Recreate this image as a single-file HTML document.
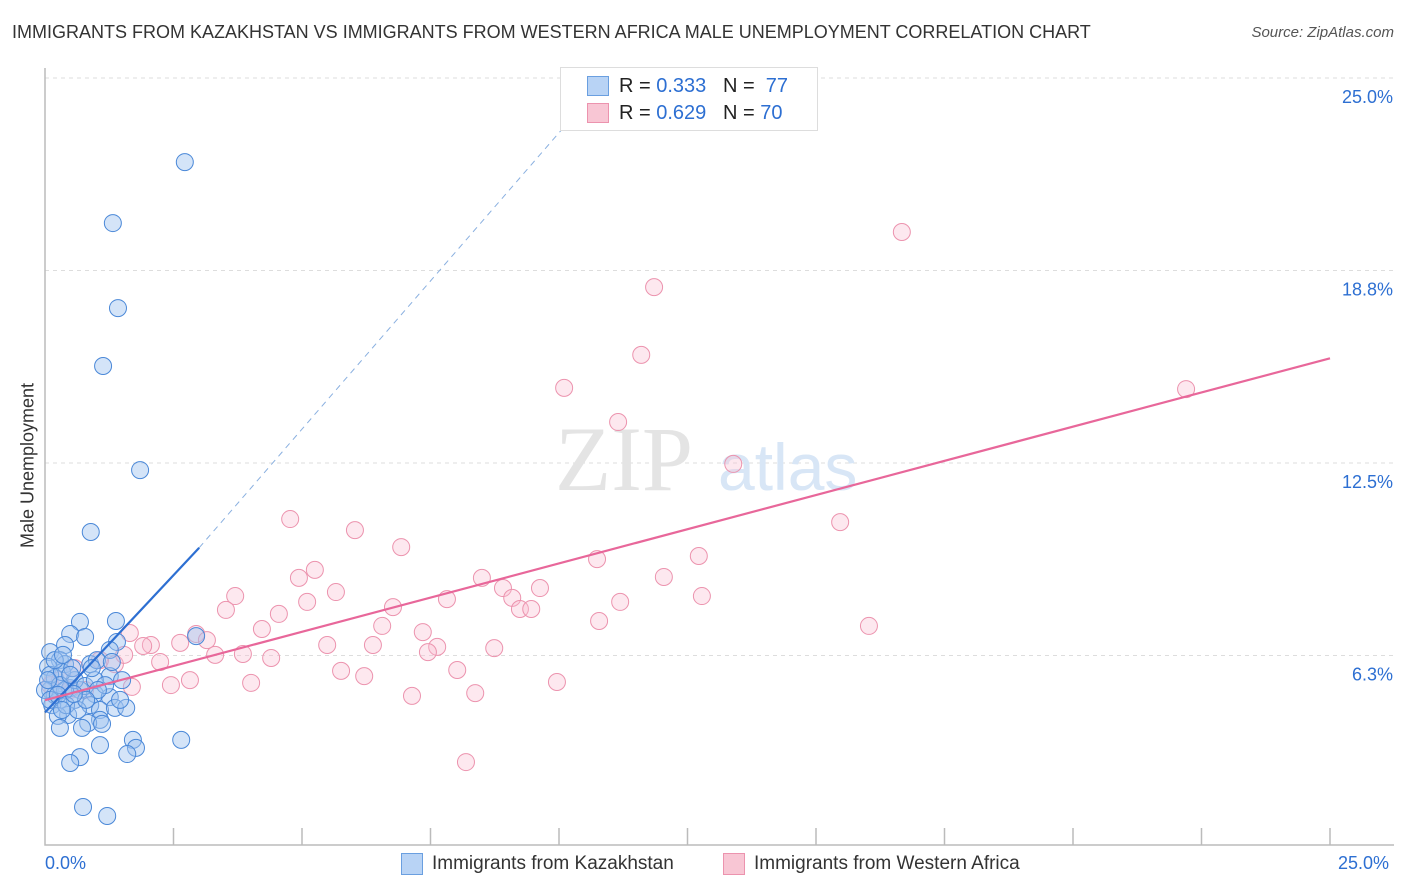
<!DOCTYPE html>
<html><head><meta charset="utf-8"><style>
body{margin:0;background:#fff;font-family:"Liberation Sans",sans-serif;}
#wrap{position:relative;width:1406px;height:892px;overflow:hidden;}
.t{position:absolute;white-space:nowrap;}
</style></head><body><div id="wrap">
<div class="t" style="left:12px;top:22px;font-size:18px;color:#333;">IMMIGRANTS FROM KAZAKHSTAN VS IMMIGRANTS FROM WESTERN AFRICA MALE UNEMPLOYMENT CORRELATION CHART</div>
<div class="t" style="right:12px;top:24px;font-size:15px;color:#555;font-style:italic;">Source: ZipAtlas.com</div>
<svg id="svg" width="1406" height="892" style="position:absolute;left:0;top:0"></svg>
<div class="t" style="left:16px;top:455px;font-size:18px;color:#333;transform:translate(-50%,0) rotate(-90deg);transform-origin:50% 50%;margin-left:12px;">Male Unemployment</div>
<div style="position:absolute;left:560px;top:67px;width:256px;height:62px;border:1px solid #ddd;background:#fff;">
<div style="position:absolute;left:26px;top:8px;width:20px;height:18px;background:#b8d3f5;border:1px solid #6a9fe0;"></div>
<div class="t" style="left:58px;top:7px;font-size:20px;color:#222">R = <span style="color:#2d6fd2">0.333</span>&nbsp;&nbsp;&nbsp;N = &nbsp;<span style="color:#2d6fd2">77</span></div>
<div style="position:absolute;left:26px;top:35px;width:20px;height:18px;background:#f8c6d4;border:1px solid #ec93ae;"></div>
<div class="t" style="left:58px;top:34px;font-size:20px;color:#222">R = <span style="color:#2d6fd2">0.629</span>&nbsp;&nbsp;&nbsp;N = <span style="color:#2d6fd2">70</span></div>
</div>
<div style="position:absolute;left:401px;top:853px;width:20px;height:20px;background:#b8d3f5;border:1px solid #6a9fe0;"></div>
<div class="t" style="left:432px;top:853px;font-size:19px;color:#333">Immigrants from Kazakhstan</div>
<div style="position:absolute;left:723px;top:853px;width:20px;height:20px;background:#f8c6d4;border:1px solid #ec93ae;"></div>
<div class="t" style="left:754px;top:853px;font-size:19px;color:#333">Immigrants from Western Africa</div>
<div class="t" style="left:45px;top:853px;font-size:18px;color:#2d6fd2">0.0%</div>
<div class="t" style="left:1338px;top:853px;font-size:18px;color:#2d6fd2">25.0%</div>
</div>
<script>
const yTicks=[25,18.75,12.5,6.25];
const yTickLabels=["25.0%","18.8%","12.5%","6.3%"];
const blueX=[185,113,118,103,140,91,80,116,70,85,65,117,110,196,50,60,48,65,90,97,110,122,55,70,80,95,110,60,75,52,90,100,115,126,68,58,100,88,60,82,102,133,100,181,136,127,80,70,83,107,50,55,65,75,85,50,62,72,45,50,60,70,95,105,58,66,78,48,55,63,92,112,120,98,86,74,62].map(p=>+((p-45)*25/1285).toFixed(2));
const blueY=[162,223,308,366,470,532,622,621,634,637,645,642,650,636,652,660,667,664,664,660,676,680,678,688,690,694,697,700,700,705,705,710,708,708,715,716,720,723,728,728,724,740,745,740,748,754,757,763,807,816,690,695,690,680,686,675,672,668,690,700,685,675,680,685,695,705,710,680,660,655,668,662,700,690,700,694,710].map(p=>+((848-p)*25/770).toFixed(2));
const pinkX=[902,654,641,564,1186,618,733,290,840,355,401,597,699,315,299,482,664,235,336,503,540,512,447,307,226,279,393,520,531,620,702,382,599,869,262,423,196,207,327,373,437,494,151,143,180,130,428,215,243,271,160,115,124,341,364,457,190,171,251,132,557,475,412,466,75,60,85,70,50,100].map(p=>+((p-45)*25/1285).toFixed(2));
const pinkY=[232,287,355,388,389,422,464,519,522,530,547,559,556,570,578,578,577,596,592,588,588,598,599,602,610,614,607,609,609,602,596,626,621,626,629,632,634,640,645,645,647,648,645,646,643,633,652,655,654,658,662,664,655,671,676,670,680,685,683,687,682,693,696,762,668,680,690,690,685,660].map(p=>+((848-p)*25/770).toFixed(2));
const blueTrend=[0,4.4,3,9.75];   // x0,y0,x1,y1 (%)
const blueDash=[3,9.75,10.3,23.8];
const pinkTrend=[0,4.8,25,15.9];
const X=v=>45+v*1285/25, Y=v=>848-v*770/25;
const s=document.getElementById('svg'),NS='http://www.w3.org/2000/svg';
function mk(t,a){const e=document.createElementNS(NS,t);for(const k in a)e.setAttribute(k,a[k]);s.appendChild(e);return e;}
yTicks.forEach((v,i)=>{
 const g=mk('line',{x1:45,x2:1394,y1:Y(v),y2:Y(v),stroke:'#ddd','stroke-dasharray':'4,4'});
 
 
 const t=mk('text',{x:1393,y:Y(v)+25,'text-anchor':'end','font-size':18,fill:'#2d6fd2','font-family':'Liberation Sans'});
 t.textContent=yTickLabels[i];
 
 
});
const ax=mk('path',{d:'M45,68V845H1394',stroke:'#bbb',fill:'none','stroke-width':1.5});


for(let i=1;i<=10;i++){const tk=mk('line',{x1:X(i*2.5),x2:X(i*2.5),y1:828,y2:845,stroke:'#bbb','stroke-width':1.5});

}
const wm=mk('text',{x:555,y:490,'font-size':92,fill:'#e4e4e4','font-family':'Liberation Serif'});wm.textContent='ZIP';


const wm2=mk('text',{x:718,y:490,'font-size':66,fill:'#d8e6f6','font-family':'Liberation Sans'});wm2.textContent='atlas';


pinkX.forEach((x,i)=>{const c=mk('circle',{cx:X(x),cy:Y(pinkY[i]),r:8.5,fill:'rgba(248,190,208,0.35)',stroke:'#ec93ae','stroke-width':1});

});
blueX.forEach((x,i)=>{const c=mk('circle',{cx:X(x),cy:Y(blueY[i]),r:8.5,fill:'rgba(160,196,240,0.45)',stroke:'#4a88d8','stroke-width':1});

});
const l1=mk('line',{x1:X(blueTrend[0]),y1:Y(blueTrend[1]),x2:X(blueTrend[2]),y2:Y(blueTrend[3]),stroke:'#2d6fd2','stroke-width':2.2});


const l2=mk('line',{x1:X(blueDash[0]),y1:Y(blueDash[1]),x2:X(blueDash[2]),y2:Y(blueDash[3]),stroke:'#8ab0e0','stroke-width':1,'stroke-dasharray':'6,5'});


const l3=mk('line',{x1:X(pinkTrend[0]),y1:Y(pinkTrend[1]),x2:X(pinkTrend[2]),y2:Y(pinkTrend[3]),stroke:'#e8679a','stroke-width':2.2});


</script></body></html>
